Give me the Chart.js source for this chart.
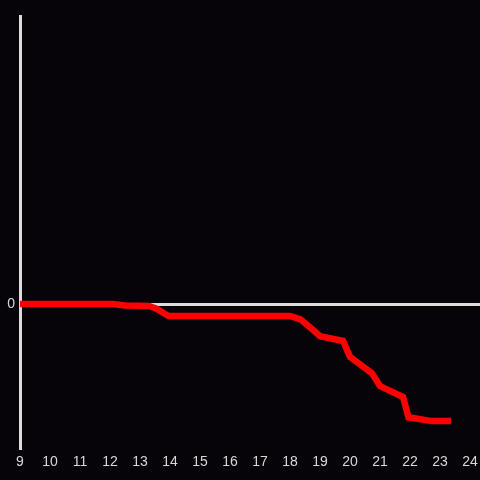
<!DOCTYPE html>
<html>
<head>
<meta charset="utf-8">
<script src="https://cdn.jsdelivr.net/npm/chart.js@4/dist/chart.umd.min.js"></script>
<style>
html,body{margin:0;padding:0;background:#060408;}
#wrap{width:480px;height:480px;position:relative;}
</style>
</head>
<body>
<div id="wrap"><canvas id="c" width="480" height="480"></canvas></div>
<script>
const hours = [9, 12.1, 12.5, 13.3, 13.55, 13.95, 18, 18.35, 18.77, 19, 19.77, 20, 20.73, 21, 21.77, 21.95, 22.73, 23.37];
const values = [0, 0, -0.015, -0.02, -0.05, -0.125, -0.125, -0.16, -0.27, -0.335, -0.385, -0.55, -0.72, -0.855, -0.97, -1.18, -1.22, -1.22];
const xTickValues = [9,10,11,12,13,14,15,16,17,18,19,20,21,22,23,24];
const yTickValues = [0];

const points = hours.map((h, i) => ({x: h, y: values[i]}));

new Chart(document.getElementById('c'), {
  type: 'line',
  data: {
    datasets: [{
      data: points,
      borderColor: '#ff0000',
      borderWidth: 6.5,
      pointRadius: 0,
      tension: 0,
      fill: false
    }]
  },
  options: {
    responsive: false,
    animation: false,
    layout: {padding: {top: 16, right: 0, left: 0, bottom: 0}},
    plugins: {legend: {display: false}, tooltip: {enabled: false}},
    scales: {
      x: {
        type: 'linear',
        min: 9,
        max: 24.333,
        afterBuildTicks: s => { s.ticks = xTickValues.map(v => ({value: v})); },
        afterFit: s => { s.height = 32; s.paddingRight = 0; s.paddingLeft = 0; },
        border: {display: false},
        grid: {display: false, drawTicks: false},
        ticks: {
          color: '#d8d8d8',
          font: {family: 'Liberation Sans', size: 14},
          padding: 6,
          maxRotation: 0,
          autoSkip: false
        }
      },
      y: {
        min: -1.5,
        max: 3,
        afterBuildTicks: s => { s.ticks = yTickValues.map(v => ({value: v})); },
        afterFit: s => { s.width = 20; s.paddingTop = 0; s.paddingBottom = 0; },
        border: {display: true, color: '#dcdcdc', width: 3},
        grid: {display: true, color: '#dcdcdc', lineWidth: 3, drawTicks: false},
        ticks: {
          color: '#d8d8d8',
          font: {family: 'Liberation Sans', size: 14},
          padding: 5
        }
      }
    }
  }
});
</script>
</body>
</html>
